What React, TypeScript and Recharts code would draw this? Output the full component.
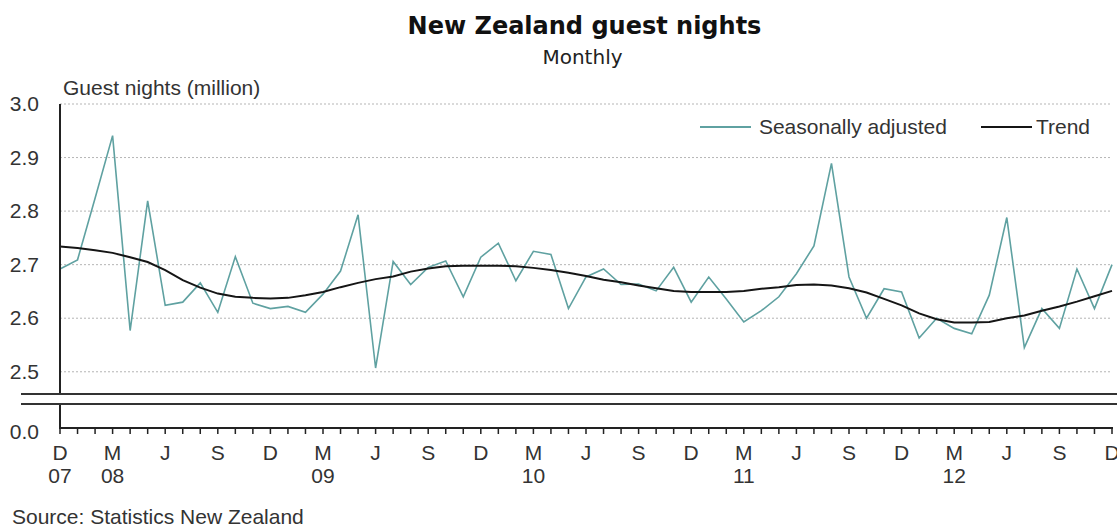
import React from 'react';
import { LineChart, Line, XAxis, YAxis, CartesianGrid } from 'recharts';

// Dec 2007 .. Dec 2012, monthly, million guest nights
const seasonallyAdjusted = [
  2.692, 2.709, 2.824, 2.941, 2.577, 2.819, 2.624, 2.630, 2.666, 2.611,
  2.715, 2.628, 2.618, 2.622, 2.611, 2.645, 2.688, 2.793, 2.507, 2.706,
  2.663, 2.695, 2.707, 2.640, 2.714, 2.740, 2.670, 2.725, 2.719, 2.618,
  2.677, 2.692, 2.663, 2.664, 2.651, 2.695, 2.630, 2.677, 2.636, 2.593,
  2.614, 2.640, 2.683, 2.735, 2.889, 2.677, 2.600, 2.655, 2.649, 2.563,
  2.600, 2.581, 2.571, 2.643, 2.788, 2.545, 2.618, 2.581, 2.692, 2.618, 2.700,
];

const trend = [
  2.734, 2.731, 2.727, 2.722, 2.714, 2.705, 2.690, 2.671, 2.657, 2.646,
  2.640, 2.638, 2.637, 2.638, 2.643, 2.649, 2.658, 2.666, 2.673, 2.678,
  2.687, 2.693, 2.697, 2.698, 2.698, 2.698, 2.697, 2.694, 2.690, 2.685,
  2.679, 2.672, 2.667, 2.661, 2.656, 2.651, 2.649, 2.649, 2.649, 2.651,
  2.655, 2.658, 2.662, 2.663, 2.661, 2.656, 2.648, 2.636, 2.624, 2.609,
  2.598, 2.592, 2.592, 2.593, 2.600, 2.605, 2.614, 2.622, 2.631, 2.641, 2.651,
];

// labels shown every third month
const xTickMonths = ['D', 'M', 'J', 'S', 'D', 'M', 'J', 'S', 'D', 'M', 'J', 'S', 'D', 'M', 'J', 'S', 'D', 'M', 'J', 'S', 'D'];
const xTickYears = ['07', '08', '', '', '', '09', '', '', '', '10', '', '', '', '11', '', '', '', '12', '', '', ''];
const yTicks = [2.5, 2.6, 2.7, 2.8, 2.9, 3.0];

// broken axis: the strip under the break stands for the drop to zero
const AXIS_FLOOR = 2.395;
const yAxisTicks = [AXIS_FLOOR, ...yTicks];

const series = [
  { key: 'sa', name: 'Seasonally adjusted', color: '#5fa1a1', width: 1.6 },
  { key: 'trend', name: 'Trend', color: '#151515', width: 2 },
];

const data = seasonallyAdjusted.map((v, i) => ({ i, sa: v, trend: trend[i] }));
const allMonths = data.map((d) => d.i);

const FONT = '"Liberation Sans", Arial, sans-serif';
const TEXT = '#333';
const AXIS = '#222';
const W = 1117;

// tick mark (as a filled rect) plus label
function MonthTick({ x, y, payload }: any) {
  const i = payload.value;
  const k = i / 3;
  return (
    <g>
      <rect x={x - 0.75} y={y} width={1.5} height={6} fill={AXIS} />
      {i % 3 === 0 && (
        <text x={x} textAnchor="middle" fontSize={21} fontFamily={FONT} fill={TEXT}>
          <tspan x={x} y={y + 32}>{xTickMonths[k]}</tspan>
          {xTickYears[k] && <tspan x={x} y={y + 55}>{xTickYears[k]}</tspan>}
        </text>
      )}
    </g>
  );
}

function ValueTick({ x, y, payload }: any) {
  const v = payload.value;
  const isZero = v === AXIS_FLOOR;
  return (
    <text x={x} y={y + (isZero ? 11 : 7)} textAnchor="end" fontSize={21} fontFamily={FONT} fill={TEXT}>
      {isZero ? '0.0' : v.toFixed(1)}
    </text>
  );
}

export default function App() {
  return (
    <div style={{ position: 'absolute', left: 0, top: 0, width: W, height: 527, background: '#fff', fontFamily: FONT, color: TEXT, overflow: 'hidden' }}>
      <div style={{ position: 'absolute', left: 0, top: 11, width: 1169, textAlign: 'center', fontFamily: '"DejaVu Sans", sans-serif', fontWeight: 'bold', fontSize: 24, lineHeight: '30px', color: '#111' }}>
        New Zealand guest nights
      </div>
      <div style={{ position: 'absolute', left: 0, top: 44, width: 1165, textAlign: 'center', fontFamily: '"DejaVu Sans", sans-serif', fontSize: 20, lineHeight: '26px', color: '#222' }}>
        Monthly
      </div>
      <div style={{ position: 'absolute', left: 63, top: 76, fontSize: 21, lineHeight: '24px' }}>Guest nights (million)</div>

      <div style={{ position: 'absolute', left: 0, top: 0 }}>
        <LineChart width={W} height={527} data={data} margin={{ top: 104, right: 5, bottom: 0, left: 0 }}>
          <CartesianGrid vertical={false} stroke="#b5b5b5" strokeDasharray="2 2" />
          <XAxis
            dataKey="i"
            type="number"
            domain={[0, 60]}
            ticks={allMonths}
            interval={0}
            height={99}
            tickSize={0}
            tickMargin={0}
            tick={<MonthTick />}
            stroke={AXIS}
            tickLine={false}
          />
          <YAxis
            domain={[AXIS_FLOOR, 3.0]}
            ticks={yAxisTicks}
            interval={0}
            width={60}
            tickSize={0}
            tickMargin={21}
            tick={<ValueTick />}
            axisLine={{ stroke: AXIS, strokeWidth: 2 }}
            tickLine={false}
            allowDataOverflow
          />
          {series.map((s) => (
            <Line
              key={s.key}
              dataKey={s.key}
              name={s.name}
              stroke={s.color}
              strokeWidth={s.width}
              dot={false}
              type="linear"
              isAnimationActive={false}
            />
          ))}
        </LineChart>
      </div>

      {/* axis break: two rules with a white gap cutting the y axis */}
      <div style={{ position: 'absolute', left: 21, top: 393, width: W - 21, height: 12, background: '#fff', borderTop: '2px solid #333', borderBottom: '2px solid #333', boxSizing: 'border-box' }} />
      {/* zero baseline rule, level with the x axis */}
      <div style={{ position: 'absolute', left: 59, top: 427, width: 1054, height: 2, background: AXIS }} />

      <div style={{ position: 'absolute', right: 27, top: 114, display: 'flex', alignItems: 'center', fontSize: 21, lineHeight: '26px' }}>
        {series.map((s, idx) => (
          <div key={s.key} style={{ display: 'flex', alignItems: 'center', marginLeft: idx === 0 ? 0 : 34 }}>
            <div style={{ width: 51, height: 2, background: s.color, marginRight: idx === 0 ? 8 : 4 }} />
            <span>{s.name}</span>
          </div>
        ))}
      </div>

      <div style={{ position: 'absolute', left: 12, top: 505, fontSize: 21, lineHeight: '24px' }}>Source: Statistics New Zealand</div>
    </div>
  );
}
